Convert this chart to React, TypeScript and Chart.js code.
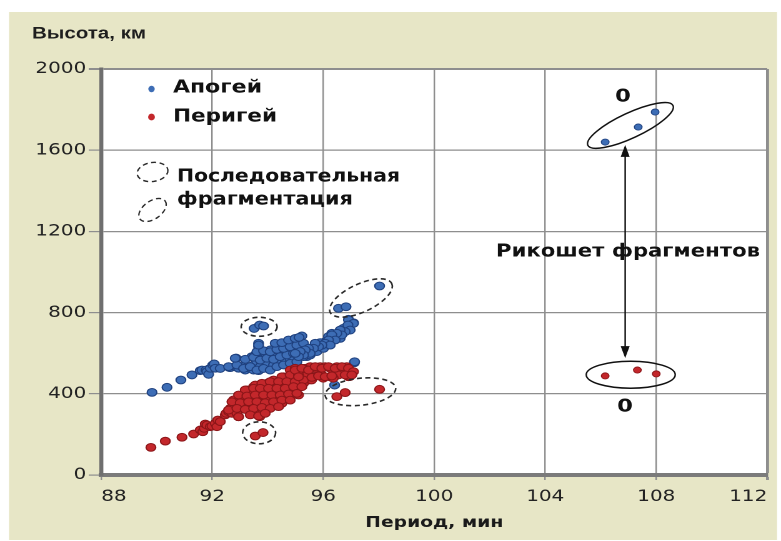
import React, { useEffect, useRef } from "react";
import { Chart, registerables } from "chart.js";

Chart.register(...registerables);

// ---------- data ----------
const xTickValues = [88, 92, 96, 100, 104, 108, 112];
const yTickValues = [0, 400, 800, 1200, 1600, 2000];
const xAxisTitle = "Период, мин";
const yAxisTitle = "Высота, км";
const apogeeLabel = "Апогей";
const perigeeLabel = "Перигей";
const fragLabel1 = "Последовательная";
const fragLabel2 = "фрагментация";
const ricochetLabel = "Рикошет фрагментов";
const zeroLabel = "0";

// [period (min), altitude (km)]
const apogeeMain: [number, number][] = [
  [89.83, 407], [90.37, 432], [90.87, 468], [91.27, 493], [91.57, 514], [91.63, 517],
  [91.78, 517], [91.81, 509], [91.87, 496], [91.93, 526], [92.02, 542], [92.07, 547],
  [92.11, 526], [92.29, 525], [92.61, 530], [92.65, 529], [92.83, 534], [92.86, 576],
  [92.95, 526], [93.07, 534], [93.19, 517], [93.35, 526], [93.49, 517], [93.67, 514],
  [93.85, 526], [93.49, 542], [93.61, 558], [93.79, 567], [93.97, 570], [94.15, 575],
  [94.33, 583], [94.51, 591], [94.69, 599], [94.87, 616], [95.05, 632], [95.17, 673],
  [95.32, 632], [95.47, 624], [93.43, 583], [93.55, 591], [93.67, 632], [93.67, 649],
  [93.91, 599], [94.09, 616], [94.33, 616], [94.57, 649], [94.75, 657], [94.93, 649],
  [94.69, 624], [93.73, 534], [93.97, 550], [94.21, 542], [94.45, 558], [94.63, 567],
  [94.81, 570], [95.05, 575], [95.23, 591], [95.41, 583],
  [96.91, 767], [97.09, 750], [96.95, 739], [96.73, 723], [96.61, 706], [96.49, 690],
  [96.31, 698], [96.19, 682], [96.07, 657], [95.89, 652], [95.71, 640], [95.59, 624],
  [95.41, 616], [95.23, 624], [94.87, 608], [94.93, 575], [95.29, 583], [95.53, 591],
  [95.77, 608], [96.01, 624], [96.25, 649], [96.37, 665], [96.61, 673], [97.12, 553],
  [96.41, 443],
  [92.59, 534], [92.89, 542], [93.13, 525], [93.37, 534], [93.61, 517], [93.85, 525],
  [94.09, 517], [94.33, 534], [94.57, 542], [94.81, 550], [95.05, 558], [92.83, 575],
  [93.19, 570], [93.49, 580], [93.73, 566], [93.97, 575], [94.21, 570], [94.45, 583],
  [94.69, 591], [94.93, 599], [95.17, 608], [93.61, 607], [93.85, 612], [94.09, 607],
  [94.33, 619], [94.57, 624], [94.81, 632], [95.05, 640], [95.29, 649], [93.67, 640],
  [94.27, 649], [94.51, 652], [94.75, 665], [94.99, 673], [95.23, 685],
  [96.91, 764], [97.09, 747], [96.89, 739], [96.97, 714], [96.79, 706], [96.61, 714],
  [96.67, 690], [96.49, 698], [96.31, 690], [96.43, 665], [96.19, 665], [96.07, 649],
  [96.25, 640], [95.95, 640], [95.83, 632], [95.71, 649], [95.65, 624], [95.47, 624],
  [95.53, 599], [95.35, 616], [95.29, 591], [95.17, 608], [95.11, 583], [94.99, 599],
  [95.13, 678], [97.13, 558],
  [93.51, 722], [93.71, 739], [93.85, 734], [96.55, 821], [96.82, 829], [98.03, 931],
];

const perigeeMain: [number, number][] = [
  [89.79, 136], [90.31, 167], [90.91, 186], [91.33, 202], [91.57, 222], [91.66, 213],
  [91.71, 230], [91.75, 251], [91.81, 246], [91.93, 238], [91.99, 241], [92.11, 255],
  [92.17, 238], [92.2, 271], [92.29, 263], [92.47, 296], [92.5, 304], [92.59, 312],
  [92.71, 304], [92.77, 337], [92.89, 345], [92.95, 287], [93.07, 328], [93.13, 370],
  [93.25, 419], [93.37, 402], [93.43, 370], [93.49, 435], [93.61, 394], [93.67, 370],
  [93.73, 337], [93.79, 320], [93.71, 287], [93.85, 419], [93.97, 452], [94.09, 427],
  [94.15, 394], [94.27, 378], [94.33, 452], [94.45, 411], [94.57, 386], [94.57, 484],
  [94.69, 452], [94.75, 378], [94.81, 517], [94.93, 493], [95.05, 468], [95.17, 509],
  [95.23, 476], [95.41, 509], [95.47, 468], [95.11, 394], [93.97, 361], [94.15, 337],
  [94.33, 370], [94.51, 353], [93.01, 370], [93.31, 337], [93.49, 312],
  [93.55, 443], [93.79, 443], [94.21, 468], [94.45, 468], [93.13, 386], [93.91, 386],
  [94.03, 378], [93.37, 353], [93.55, 340], [93.91, 340], [94.63, 427], [94.99, 435],
  [95.29, 452], [92.77, 370], [92.89, 304], [92.65, 328], [94.87, 427],
  [94.99, 526], [95.35, 526], [95.53, 534], [95.71, 526], [95.89, 534], [96.07, 534],
  [96.25, 526], [96.49, 534], [96.67, 526], [96.85, 534], [97.07, 509], [96.91, 484],
  [96.55, 493], [96.25, 484], [95.95, 493], [95.65, 484], [95.35, 488], [95.05, 484],
  [94.87, 488], [96.36, 477], [96.0, 477], [95.58, 468], [96.96, 485],
  [95.05, 517], [95.29, 525], [94.51, 484], [94.81, 493], [95.11, 493],
  [93.79, 452], [94.09, 460], [94.39, 460], [94.69, 460], [94.99, 460], [95.29, 468],
  [93.19, 419], [93.49, 427], [93.73, 427], [94.03, 427], [94.33, 427], [94.63, 427],
  [94.93, 435], [95.23, 435], [92.95, 394], [93.25, 389], [93.55, 394], [93.85, 394],
  [94.15, 394], [94.45, 394], [94.75, 399], [95.05, 402], [92.71, 361], [93.01, 356],
  [93.31, 361], [93.61, 361], [93.91, 356], [94.21, 361], [94.51, 369], [94.81, 369],
  [92.59, 320], [92.89, 328], [93.19, 323], [93.49, 328], [93.79, 333], [94.09, 328],
  [94.39, 337], [92.95, 287], [93.37, 296], [93.67, 291], [93.91, 304],
  [94.99, 517], [95.23, 526], [95.47, 517], [95.71, 534], [95.95, 526], [96.19, 534],
  [96.43, 526], [96.67, 534], [96.91, 526], [97.09, 509], [95.11, 484], [95.59, 481],
  [95.83, 488], [96.07, 484], [96.31, 488], [96.79, 493], [97.03, 493],
  [93.55, 192], [93.83, 209], [96.49, 386], [96.79, 406], [98.03, 422],
];

const apogeeRicochet: [number, number][] = [[106.16, 1640], [107.35, 1714], [107.96, 1788]];
const perigeeRicochet: [number, number][] = [[106.16, 488], [107.32, 517], [108.0, 498]];

// annotation ellipses: centre in data units
const dashedEllipses = [
  { period: 93.69, altitude: 730, rx: 18, ry: 9.5, rot: 0 },
  { period: 97.36, altitude: 872, rx: 34, ry: 14, rot: -25 },
  { period: 97.34, altitude: 410, rx: 35.5, ry: 13.5, rot: -6 },
  { period: 93.69, altitude: 208, rx: 16.5, ry: 11, rot: 0 },
];
const solidEllipses = [
  { period: 107.07, altitude: 1722, rx: 47, ry: 12.5, rot: -25 },
  { period: 107.08, altitude: 494, rx: 44.5, ry: 13.5, rot: 0 },
];
const arrowPeriod = 106.88;
const arrowFrom = 1626;
const arrowTo = 576;

// ---------- look ----------
const S = 781 / 625; // horizontal stretch of the picture
const W = 625;
const H = 541;
const BLUE = "#3d6db5";
const BLUE_EDGE = "#1f417f";
const RED = "#c3272b";
const RED_EDGE = "#8c1619";
const BEIGE = "#e7e6c6";
const GRID = "#8e8e8e";

const toPts = (arr: [number, number][]) => arr.map(([x, y]) => ({ x, y }));

function drawFit(ctx: CanvasRenderingContext2D, text: string, x: number, y: number, w: number, font: string) {
  ctx.font = font;
  const m = ctx.measureText(text).width;
  ctx.save();
  ctx.translate(x, y);
  ctx.scale(w / m, 1);
  ctx.textAlign = "left";
  ctx.textBaseline = "middle";
  ctx.fillText(text, 0, 0);
  ctx.restore();
}

function ellipse(ctx: CanvasRenderingContext2D, cx: number, cy: number, rx: number, ry: number, rot: number, dashed: boolean) {
  ctx.beginPath();
  ctx.ellipse(cx, cy, rx, ry, (rot * Math.PI) / 180, 0, Math.PI * 2);
  ctx.setLineDash(dashed ? [5, 3.5] : []);
  ctx.stroke();
}

const decorPlugin = {
  id: "decor",
  beforeDraw(chart: any) {
    const { ctx, chartArea: a } = chart;
    ctx.save();
    ctx.fillStyle = "#ffffff";
    ctx.fillRect(0, 0, W, H);
    ctx.fillStyle = BEIGE;
    ctx.fillRect(9 / S, 12, (777 - 9) / S, 540 - 12);
    ctx.fillStyle = "#ffffff";
    ctx.fillRect(a.left, a.top, a.right - a.left, a.bottom - a.top);
    ctx.restore();
  },
  afterDatasetsDraw(chart: any) {
    const ctx: CanvasRenderingContext2D = chart.ctx;
    const xs = chart.scales.x;
    const ys = chart.scales.y;
    ctx.save();
    ctx.scale(1 / S, 1); // physical units
    ctx.strokeStyle = "#2a2a2a";
    ctx.lineWidth = 1.6;
    dashedEllipses.forEach((e) =>
      ellipse(ctx, xs.getPixelForValue(e.period) * S, ys.getPixelForValue(e.altitude), e.rx, e.ry, e.rot, true)
    );
    ctx.strokeStyle = "#111";
    ctx.lineWidth = 1.5;
    solidEllipses.forEach((e) =>
      ellipse(ctx, xs.getPixelForValue(e.period) * S, ys.getPixelForValue(e.altitude), e.rx, e.ry, e.rot, false)
    );
    // arrow
    const ax = xs.getPixelForValue(arrowPeriod) * S;
    const y1 = ys.getPixelForValue(arrowFrom);
    const y2 = ys.getPixelForValue(arrowTo);
    ctx.setLineDash([]);
    ctx.lineWidth = 1.5;
    ctx.beginPath();
    ctx.moveTo(ax, y1 + 10);
    ctx.lineTo(ax, y2 - 10);
    ctx.stroke();
    ctx.fillStyle = "#111";
    ctx.beginPath();
    ctx.moveTo(ax, y1);
    ctx.lineTo(ax - 4.5, y1 + 12);
    ctx.lineTo(ax + 4.5, y1 + 12);
    ctx.closePath();
    ctx.fill();
    ctx.beginPath();
    ctx.moveTo(ax, y2);
    ctx.lineTo(ax - 4.5, y2 - 12);
    ctx.lineTo(ax + 4.5, y2 - 12);
    ctx.closePath();
    ctx.fill();
    // legend symbols
    ctx.fillStyle = BLUE;
    ctx.beginPath();
    ctx.arc(151.5, 89, 3.2, 0, Math.PI * 2);
    ctx.fill();
    ctx.fillStyle = RED;
    ctx.beginPath();
    ctx.arc(151.5, 117, 3.4, 0, Math.PI * 2);
    ctx.fill();
    ctx.strokeStyle = "#2a2a2a";
    ctx.lineWidth = 1.4;
    ellipse(ctx, 152.5, 172, 15.5, 9.5, -8, true);
    ellipse(ctx, 152.5, 210, 15.5, 9, -35, true);
    ctx.restore();
  },
  afterDraw(chart: any) {
    const ctx: CanvasRenderingContext2D = chart.ctx;
    ctx.save();
    ctx.fillStyle = "#1e1e1e";
    drawFit(ctx, yAxisTitle, 32 / S, 34, 114 / S, "bold 17px 'Liberation Sans', Arial, sans-serif");
    ctx.fillStyle = "#111";
    const f18 = "bold 18px 'DejaVu Sans', sans-serif";
    drawFit(ctx, apogeeLabel, 173 / S, 88, 89 / S, f18);
    drawFit(ctx, perigeeLabel, 173 / S, 117, 104 / S, f18);
    drawFit(ctx, fragLabel1, 177 / S, 177, 223 / S, f18);
    drawFit(ctx, fragLabel2, 177 / S, 200, 176 / S, f18);
    drawFit(ctx, ricochetLabel, 496 / S, 252, 264 / S, f18);
    ctx.font = f18;
    ctx.textAlign = "center";
    ctx.textBaseline = "middle";
    ctx.fillText(zeroLabel, 623 / S, 97);
    ctx.fillText(zeroLabel, 625 / S, 407);
    ctx.restore();
  },
};

export default function App() {
  const ref = useRef<HTMLCanvasElement>(null);
  useEffect(() => {
    const canvas = ref.current as HTMLCanvasElement;
    const chart = new Chart(canvas, {
      type: "scatter",
      data: {
        datasets: [
          {
            label: perigeeLabel,
            data: toPts(perigeeMain),
            backgroundColor: RED,
            borderColor: RED_EDGE,
            borderWidth: 1,
            pointRadius: 3.9,
          },
          {
            label: apogeeLabel,
            data: toPts(apogeeMain),
            backgroundColor: BLUE,
            borderColor: BLUE_EDGE,
            borderWidth: 1,
            pointRadius: 3.9,
          },
          {
            label: perigeeLabel + " (рикошет)",
            data: toPts(perigeeRicochet),
            backgroundColor: RED,
            borderColor: RED_EDGE,
            borderWidth: 0.8,
            pointRadius: 3.1,
          },
          {
            label: apogeeLabel + " (рикошет)",
            data: toPts(apogeeRicochet),
            backgroundColor: BLUE,
            borderColor: BLUE_EDGE,
            borderWidth: 0.8,
            pointRadius: 3.1,
          },
        ],
      },
      options: {
        responsive: false,
        animation: false,
        devicePixelRatio: 2,
        events: [],
        layout: { padding: { left: 0, right: 11, top: 69, bottom: 0 } },
        plugins: { legend: { display: false }, tooltip: { enabled: false } },
        scales: {
          x: {
            type: "linear",
            min: 88,
            max: 112,
            afterBuildTicks: (s: any) => {
              s.ticks = xTickValues.map((value) => ({ value }));
            },
            afterFit: (s: any) => {
              s.height = 66;
              s.paddingLeft = 0;
              s.paddingRight = 0;
            },
            grid: {
              color: GRID,
              lineWidth: (c: any) => (c.tick && c.tick.value === 112 ? 2.4 : 1.2),
              tickLength: 5,
              drawTicks: true,
            },
            border: { display: true, color: "#7b7b7b", width: 4 },
            ticks: {
              font: { family: "'DejaVu Sans', sans-serif", size: 16 },
              color: "#222",
              padding: 7,
              maxRotation: 0,
              autoSkip: false,
              align: "inner",
              callback: (v: any) => String(v),
            },
            title: {
              display: true,
              text: xAxisTitle,
              font: { family: "'DejaVu Sans', sans-serif", size: 15, weight: "bold" },
              color: "#1a1a1a",
              padding: { top: 0, bottom: 9 },
            },
          },
          y: {
            type: "linear",
            min: 0,
            max: 2000,
            afterBuildTicks: (s: any) => {
              s.ticks = yTickValues.map((value) => ({ value }));
            },
            afterFit: (s: any) => {
              s.width = 81;
              s.paddingTop = 0;
              s.paddingBottom = 0;
            },
            grid: {
              color: GRID,
              lineWidth: (c: any) => (c.tick && c.tick.value === 2000 ? 2 : 1.2),
              tickLength: 10,
              drawTicks: true,
            },
            border: { display: true, color: "#6f6f6f", width: 3.2 },
            ticks: {
              font: { family: "'DejaVu Sans', sans-serif", size: 16 },
              color: "#222",
              padding: 2,
              autoSkip: false,
              callback: (v: any) => String(v),
            },
          },
        },
      },
      plugins: [decorPlugin],
    } as any);
    return () => chart.destroy();
  }, []);

  return (
    <div
      style={{
        position: "absolute",
        left: 0,
        top: 0,
        width: 781,
        height: 541,
        overflow: "hidden",
        background: "#fff",
      }}
    >
      <canvas
        ref={ref}
        width={W}
        height={H}
        style={{
          display: "block",
          width: `${W}px`,
          height: `${H}px`,
          transform: `scaleX(${S})`,
          transformOrigin: "0 0",
        }}
      />
    </div>
  );
}
